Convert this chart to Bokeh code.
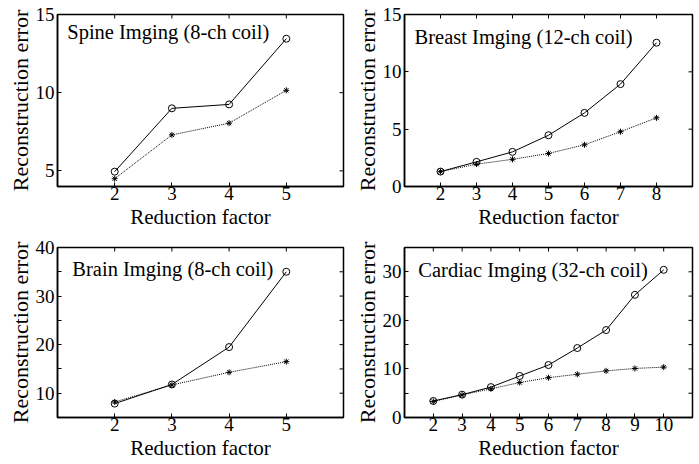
import math
from bokeh.plotting import figure
from bokeh.models import FixedTicker, Range1d, Title
from bokeh.layouts import row, column
from bokeh.embed import file_html
from bokeh.resources import INLINE
from bokeh.core.properties import value

FONT = "'Liberation Serif', 'Times New Roman', serif"
TICK_FS = "19px"
XLAB_FS = "21px"
YLAB_FS = "22px"
TITLE_FS = "20.5px"

# ---- data ----
spine_x = [2, 3, 4, 5]
spine_circ = [4.95, 9.0, 9.25, 13.45]
spine_star = [4.5, 7.3, 8.05, 10.15]

breast_x = [2, 3, 4, 5, 6, 7, 8]
breast_circ = [1.3, 2.15, 3.02, 4.47, 6.42, 8.93, 12.54]
breast_star = [1.3, 1.95, 2.37, 2.88, 3.64, 4.78, 5.99]

brain_x = [2, 3, 4, 5]
brain_circ = [7.86, 11.8, 19.5, 35.0]
brain_star = [8.2, 11.7, 14.3, 16.5]

cardiac_x = [2, 3, 4, 5, 6, 7, 8, 9, 10]
cardiac_circ = [3.4, 4.7, 6.26, 8.55, 10.8, 14.3, 18.0, 25.25, 30.4]
cardiac_star = [3.3, 4.65, 5.9, 7.2, 8.2, 8.9, 9.6, 10.1, 10.37]

titles = ["Spine Imging (8-ch coil)", "Breast Imging (12-ch coil)",
          "Brain Imging (8-ch coil)", "Cardiac Imging (32-ch coil)"]
x_label = "Reduction factor"
y_label = "Reconstruction error"


def panel(xs, circ, star, title, xr, yr, yticks, ylabels, tpos,
          fw, fh, bl, br, bt, bb):
    p = figure(width=bl + fw + br, height=bt + fh + bb,
               x_range=Range1d(*xr), y_range=Range1d(*yr),
               output_backend="svg", toolbar_location=None,
               min_border_left=bl, min_border_right=br, min_border_top=bt, min_border_bottom=bb,
               background_fill_color="white", border_fill_color="white")
    p.grid.visible = False
    p.outline_line_color = "black"
    p.outline_line_width = 1.5
    ax_x = p.xaxis[0]
    ax_y = p.yaxis[0]
    ax_x.ticker = FixedTicker(ticks=xs)
    ax_y.ticker = FixedTicker(ticks=yticks)
    ax_y.major_label_overrides = {t: lab for t, lab in zip(yticks, ylabels)}
    for ax in (ax_x, ax_y):
        ax.major_label_text_font = FONT
        ax.major_label_text_font_size = TICK_FS
        ax.major_label_text_color = "black"
        ax.major_tick_in = 4
        ax.major_tick_out = 0
        ax.minor_tick_line_color = None
        ax.axis_line_width = 1.5
        ax.major_tick_line_width = 1
    ax_x.major_label_standoff = 0
    ax_y.major_label_standoff = 3

    # axis titles (serif) placed just outside the tick labels
    p.add_layout(Title(text=x_label, align="center", text_font=FONT, text_font_size=XLAB_FS,
                       text_font_style="normal", text_color="black", standoff=0, offset=0), "below")
    p.add_layout(Title(text=y_label, align="center", text_font=FONT, text_font_size=YLAB_FS,
                       text_font_style="normal", text_color="black", standoff=0, offset=0), "left")

    # mirrored inward ticks on top and right edges
    p.ray(x=xs, y=[yr[1]] * len(xs), length=4, length_units="screen",
          angle=-math.pi / 2, line_color="black", line_width=1)
    p.ray(x=[xr[1]] * len(yticks), y=yticks, length=4, length_units="screen",
          angle=math.pi, line_color="black", line_width=1)

    p.line(xs, circ, line_color="black", line_width=1)
    p.scatter(xs, circ, marker="circle", size=7, fill_color=None, line_color="black", line_width=1)
    p.line(xs, star, line_color="black", line_width=1, line_dash="1 1")
    p.scatter(xs, star, marker="asterisk", size=6, line_color="black", line_width=1)

    p.text(x=[tpos[0]], y=[tpos[1]], text=[title], text_font=value(FONT),
           text_font_size=TITLE_FS, text_color="black", text_baseline="alphabetic", text_align="left")
    return p


p1 = panel(spine_x, spine_circ, spine_star, titles[0], (1, 6), (4, 15),
           [5, 10, 15], ["5", "10", "15"], (1.17, 13.85),
           286, 173, 57, 8, 14, 45)
p2 = panel(breast_x, breast_circ, breast_star, titles[1], (1, 9), (0, 15),
           [0, 5, 10, 15], ["0", "5", "10", "15"], (1.28, 13.0),
           288, 179, 53, 6, 7, 46)
p3 = panel(brain_x, brain_circ, brain_star, titles[2], (1, 6), (5, 40),
           [5, 10, 15, 20, 25, 30, 35, 40], ["", "10", "", "20", "", "30", "", "40"], (1.26, 35.6),
           286, 174, 57, 8, 15, 43)
p4 = panel(cardiac_x, cardiac_circ, cardiac_star, titles[3], (1, 11), (0, 35),
           [0, 5, 10, 15, 20, 25, 30, 35], ["0", "", "10", "", "20", "", "30", ""], (1.48, 30.4),
           288, 172, 53, 6, 13, 47)

layout = column(row(p1, p2, spacing=0), row(p3, p4, spacing=0), spacing=0)
open("out.html", "w").write(file_html(layout, INLINE))
